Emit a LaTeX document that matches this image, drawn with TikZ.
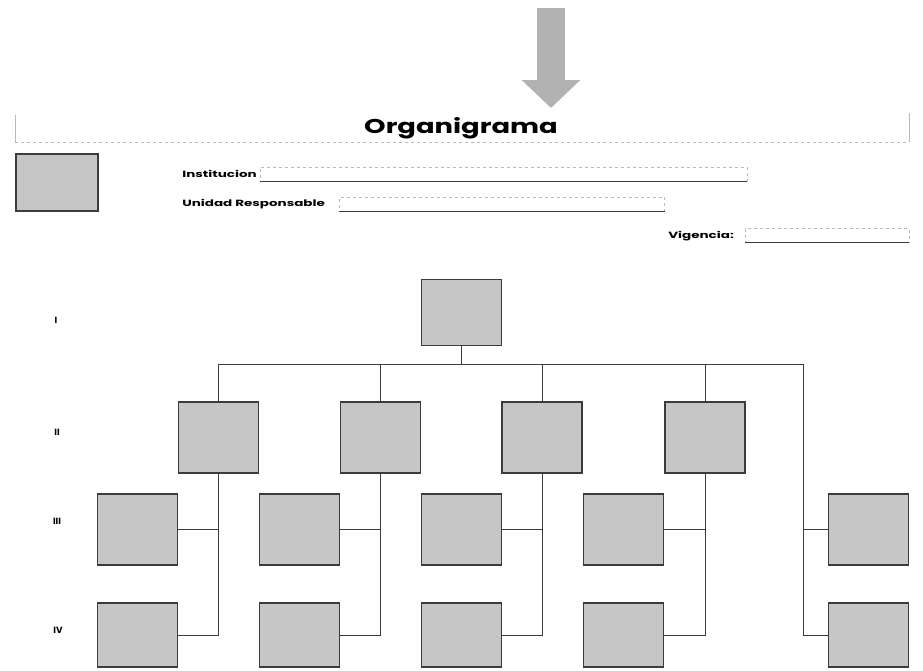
\documentclass[tikz,border=0pt]{standalone}
\usepackage{fontspec}
\setmainfont{Poppins}
\usetikzlibrary{arrows.meta}
\definecolor{boxfill}{RGB}{198,198,198}
\definecolor{boxline}{RGB}{60,60,60}
\definecolor{arrowgray}{RGB}{178,178,178}
\definecolor{faint}{RGB}{185,185,185}
\begin{document}
\begin{tikzpicture}[x=1pt,y=-1pt,font=\bfseries\fontsize{9}{10}\selectfont]
    \tikzstyle{unit}=[rectangle,draw=boxline,fill=boxfill,line width=1.6pt,minimum width=80pt,minimum height=71pt,inner sep=0]
    \tikzstyle{field}=[rectangle,draw=faint,dashed,line width=0.6pt,minimum height=14pt,inner sep=0]
    \tikzstyle{label}=[inner sep=0,anchor=west,xscale=1.5]
    \tikzstyle{link}=[line width=0.7pt,draw=boxline]
    \useasboundingbox (0,0) rectangle (923,670);
    % arrow and header
    \draw [arrowgray,line width=28pt,-{Triangle[width=57pt,length=28pt]}] (551,8) -- (551,108);
    \draw [faint,line width=0.6pt] (15,115) -- (15,142) (909,113) -- (909,142);
    \draw [faint,dashed,line width=0.6pt] (15,142) -- (909,142);
    \node [inner sep=0,font=\bfseries\fontsize{20}{22}\selectfont,xscale=1.37] (title) at (461,128) {Organigrama};
    \node [unit,minimum width=82pt,minimum height=57pt] (logo) at (57,182.5) {};
    % fields
    \node [label] (inst) at (182,174) {Institucion};
    \node [field,minimum width=487pt] (instf) at (503.5,174) {};
    \draw [link,line width=0.8pt] (instf.south west) -- (instf.south east);
    \node [label] (unid) at (182,204) {Unidad Responsable};
    \node [field,minimum width=325pt] (unidf) at (502,204) {};
    \draw [link,line width=0.8pt] (unidf.south west) -- (unidf.south east);
    \node [label] (vig) at (668,236) {Vigencia:};
    \node [field,minimum width=164pt] (vigf) at (827,235.5) {};
    \draw [link,line width=0.8pt] (vigf.south west) -- (vigf.south east);
    % levels
    \node [inner sep=0] (l1) at (56,320) {I};
    \node [inner sep=0] (l2) at (57,432) {II};
    \node [inner sep=0] (l3) at (57,521) {III};
    \node [inner sep=0] (l4) at (58,630) {IV};
    % boxes
    \node [unit,minimum height=66pt] (top) at (461.5,312.5) {};
    \node [unit] (ii1) at (218.5,437.5) {};
    \node [unit] (ii2) at (380.5,437.5) {};
    \node [unit] (ii3) at (542,437.5) {};
    \node [unit] (ii4) at (705,437.5) {};
    \foreach \i/\x in {1/137.5,2/299.5,3/461.5,4/623.5,5/868.5} {
      \node [unit] (iii\i) at (\x,529.5) {};
      \node [unit,minimum height=64pt] (iv\i) at (\x,635) {};
    }
    % connectors
    \coordinate (bus) at (461.5,364);
    \coordinate (rt) at (803,364);
    \draw [link] (top.south) -- (bus);
    \draw [link] (ii1.north) |- (rt);
    \draw [link] (ii2.north) -- (ii2.north |- bus);
    \draw [link] (ii3.north) -- (ii3.north |- bus);
    \draw [link] (ii4.north) -- (ii4.north |- bus);
    \foreach \i in {1,2,3,4} {
      \draw [link] (ii\i.south) |- (iv\i.east);
      \draw [link] (iii\i.east) -- (iii\i.east -| ii\i.south);
    }
    \draw [link] (rt) |- (iv5.west);
    \draw [link] (iii5.west) -- (iii5.west -| rt);
\end{tikzpicture}
\end{document}
